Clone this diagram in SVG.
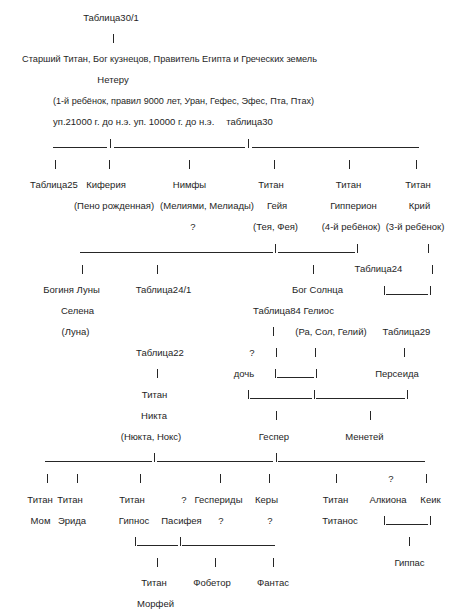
<svg xmlns="http://www.w3.org/2000/svg" width="455" height="614" viewBox="0 0 455 614">
<style>
text{font-family:"Liberation Sans",Arial,sans-serif;font-size:9.5px;fill:#1e1e1e;text-anchor:middle}
.s{text-anchor:start}
.c line{stroke:#262626;stroke-width:1;fill:none}
</style>
<rect width="455" height="614" fill="#ffffff"/>
<g id="connectors" class="c">
<line x1="113.5" y1="34" x2="113.5" y2="43"/>
<line x1="53" y1="147.5" x2="107" y2="147.5"/><line x1="110.5" y1="139" x2="110.5" y2="148"/>
<line x1="114" y1="147.5" x2="245" y2="147.5"/><line x1="248.5" y1="139" x2="248.5" y2="148"/>
<line x1="252" y1="147.5" x2="419" y2="147.5"/>
<line x1="55.5" y1="160" x2="55.5" y2="169"/><line x1="109.5" y1="160" x2="109.5" y2="169"/>
<line x1="189.5" y1="160" x2="189.5" y2="169"/><line x1="274.5" y1="160" x2="274.5" y2="169"/>
<line x1="349.5" y1="160" x2="349.5" y2="169"/><line x1="416.5" y1="160" x2="416.5" y2="169"/>
<line x1="80" y1="252.5" x2="273" y2="252.5"/><line x1="275.5" y1="244" x2="275.5" y2="253"/>
<line x1="278" y1="252.5" x2="355" y2="252.5"/><line x1="357.5" y1="244" x2="357.5" y2="253"/>
<line x1="428.5" y1="244" x2="428.5" y2="253"/>
<line x1="82.5" y1="265" x2="82.5" y2="274"/><line x1="157.5" y1="265" x2="157.5" y2="274"/>
<line x1="313.5" y1="265" x2="313.5" y2="274"/><line x1="432.5" y1="265" x2="432.5" y2="274"/>
<line x1="384.5" y1="286" x2="384.5" y2="295"/><line x1="386" y1="294.5" x2="428" y2="294.5"/><line x1="430.5" y1="286" x2="430.5" y2="295"/>
<line x1="273.5" y1="327" x2="273.5" y2="336"/>
<line x1="276.5" y1="348" x2="276.5" y2="357"/><line x1="315.5" y1="348" x2="315.5" y2="357"/><line x1="404.5" y1="348" x2="404.5" y2="357"/>
<line x1="157.5" y1="369" x2="157.5" y2="378"/>
<line x1="275.5" y1="369" x2="275.5" y2="378"/><line x1="277" y1="377.5" x2="314" y2="377.5"/><line x1="316.5" y1="369" x2="316.5" y2="378"/>
<line x1="248.5" y1="390" x2="248.5" y2="399"/><line x1="250" y1="398.5" x2="312" y2="398.5"/><line x1="314.5" y1="390" x2="314.5" y2="399"/>
<line x1="316" y1="398.5" x2="405" y2="398.5"/><line x1="407.5" y1="390" x2="407.5" y2="399"/>
<line x1="276.5" y1="411" x2="276.5" y2="420"/><line x1="370.5" y1="411" x2="370.5" y2="420"/>
<line x1="45" y1="461.5" x2="152" y2="461.5"/><line x1="154.5" y1="453" x2="154.5" y2="462"/>
<line x1="157" y1="461.5" x2="273" y2="461.5"/><line x1="276.5" y1="453" x2="276.5" y2="462"/>
<line x1="278" y1="461.5" x2="425" y2="461.5"/>
<line x1="47.5" y1="474" x2="47.5" y2="483"/><line x1="77.5" y1="474" x2="77.5" y2="483"/>
<line x1="140.5" y1="474" x2="140.5" y2="483"/><line x1="220.5" y1="474" x2="220.5" y2="483"/>
<line x1="269.5" y1="474" x2="269.5" y2="483"/><line x1="336.5" y1="474" x2="336.5" y2="483"/>
<line x1="426.5" y1="474" x2="426.5" y2="483"/>
<line x1="384.5" y1="516" x2="384.5" y2="525"/><line x1="386" y1="524.5" x2="428" y2="524.5"/><line x1="430.5" y1="516" x2="430.5" y2="525"/>
<line x1="135.5" y1="537" x2="135.5" y2="546"/><line x1="137" y1="545.5" x2="178" y2="545.5"/>
<line x1="180.5" y1="537" x2="180.5" y2="546"/><line x1="182" y1="545.5" x2="275" y2="545.5"/>
<line x1="409.5" y1="537" x2="409.5" y2="546"/>
<line x1="157.5" y1="558" x2="157.5" y2="567"/><line x1="215.5" y1="558" x2="215.5" y2="567"/><line x1="273.5" y1="558" x2="273.5" y2="567"/>
</g>
<g id="n-root"><text x="111" y="20.5">Таблица30/1</text>
<text x="169.5" y="62.4" textLength="295" lengthAdjust="spacingAndGlyphs">Старший Титан, Бог кузнецов, Правитель Египта и Греческих земель</text>
<text x="113" y="83.4">Нетеру</text>
<text x="183.5" y="104.3" textLength="261" lengthAdjust="spacingAndGlyphs">(1-й ребёнок, правил 9000 лет, Уран, Гефес, Эфес, Пта, Птах)</text>
<text class="s" x="53" y="125.3">уп.21000 г. до н.э. уп. 10000 г. до н.э.</text>
<text x="249.5" y="125.3">таблица30</text></g>
<g id="n-t25"><text x="54" y="188.2">Таблица25</text></g>
<g id="n-kiferiya"><text x="106" y="188.2">Киферия</text><text x="114" y="209.1">(Пено рожденная)</text></g>
<g id="n-nimfy"><text x="189.5" y="188.2">Нимфы</text><text x="207" y="209.1">(Мелиями, Мелиады)</text><text x="193" y="230.1">?</text></g>
<g id="n-geya"><text x="271" y="188.2">Титан</text><text x="277" y="209.1">Гейя</text><text x="275.5" y="230.1">(Тея, Фея)</text></g>
<g id="n-giperion"><text x="348.5" y="188.2">Титан</text><text x="353.5" y="209.1">Гипперион</text><text x="351" y="230.1">(4-й ребёнок)</text></g>
<g id="n-kriy"><text x="418" y="188.2">Титан</text><text x="419.5" y="209.1">Крий</text><text x="415" y="230.1">(3-й ребёнок)</text></g>
<g id="n-t24"><text x="378.5" y="272">Таблица24</text></g>
<g id="n-selena"><text x="71.5" y="293">Богиня Луны</text><text x="77.5" y="313.9">Селена</text><text x="75.5" y="334.9">(Луна)</text></g>
<g id="n-t241"><text x="163.5" y="293">Таблица24/1</text></g>
<g id="n-gelios"><text x="317.5" y="293">Бог Солнца</text><text x="293.5" y="313.9">Таблица84 Гелиос</text><text x="331" y="334.9">(Ра, Сол, Гелий)</text></g>
<g id="n-t29"><text x="406.5" y="334.9">Таблица29</text></g>
<g id="n-t22"><text x="160" y="355.9">Таблица22</text></g>
<g id="n-doch"><text x="252" y="355.9">?</text><text x="244" y="376.8">дочь</text></g>
<g id="n-perseida"><text x="397" y="376.8">Персеида</text></g>
<g id="n-nikta"><text x="154.5" y="397.8">Титан</text><text x="154" y="418.7">Никта</text><text x="151" y="439.7">(Нюкта, Нокс)</text></g>
<g id="n-gesper"><text x="274" y="439.7">Геспер</text></g>
<g id="n-menetey"><text x="364.5" y="439.7">Менетей</text></g>
<g id="n-mom"><text x="40" y="502.6">Титан</text><text x="40.5" y="523.5">Мом</text></g>
<g id="n-erida"><text x="70" y="502.6">Титан</text><text x="72" y="523.5">Эрида</text></g>
<g id="n-gipnos"><text x="132" y="502.6">Титан</text><text x="134" y="523.5">Гипнос</text></g>
<g id="n-pasifeya"><text x="184" y="502.6">?</text><text x="181.5" y="523.5">Пасифея</text></g>
<g id="n-gesperidy"><text x="218.5" y="502.6">Геспериды</text><text x="221" y="523.5">?</text></g>
<g id="n-kery"><text x="266.5" y="502.6">Керы</text><text x="270" y="523.5">?</text></g>
<g id="n-titanos"><text x="335.5" y="502.6">Титан</text><text x="340" y="523.5">Титанос</text></g>
<g id="n-alkiona"><text x="391" y="481.6">?</text><text x="388" y="502.6">Алкиона</text></g>
<g id="n-keik"><text x="430.5" y="502.6">Кеик</text></g>
<g id="n-gippas"><text x="409.5" y="565.5">Гиппас</text></g>
<g id="n-morfey"><text x="154" y="586.4">Титан</text><text x="155.5" y="607.4">Морфей</text></g>
<g id="n-fobetor"><text x="212" y="586.4">Фобетор</text></g>
<g id="n-fantas"><text x="273" y="586.4">Фантас</text></g>
</svg>
